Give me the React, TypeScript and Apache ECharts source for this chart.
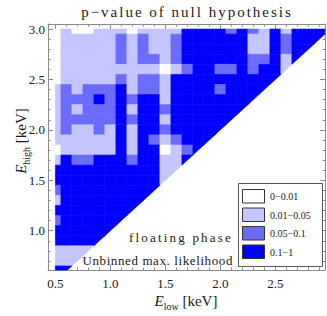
import React, { useEffect, useRef } from "react";
import * as echarts from "echarts";

// E_low columns (left to right)
const eLowValues = [0.5, 0.6, 0.7, 0.8, 0.9, 1.0, 1.1, 1.2, 1.3, 1.4, 1.5, 1.6, 1.7, 1.8, 1.9, 2.0, 2.1, 2.2, 2.3, 2.4, 2.5, 2.6, 2.7, 2.8, 2.9];
// E_high rows (top to bottom)
const eHighValues = [3.0, 2.9, 2.8, 2.7, 2.6, 2.5, 2.4, 2.3, 2.2, 2.1, 2.0, 1.9, 1.8, 1.7, 1.6, 1.5, 1.4, 1.3, 1.2, 1.1, 1.0, 0.9, 0.8, 0.7, 0.6];
// p-value class of each cell: one string per E_high row, one digit per E_low column
// 0: 0-0.01, 1: 0.01-0.05, 2: 0.05-0.1, 3: 0.1-1
const pClassRows = [
  "0100111011113333232131333",
  "0111112121123333331132333",
  "011111212112333333113233",
  "01111121221233333322313",
  "0111111111012332232331",
  "011111212213333333333",
  "12122231221333323333",
  "1222323233133333333",
  "121222313323333333",
  "12222232331333333",
  "1211213133233333",
  "111111313212333",
  "01111131330123",
  "1322333233113",
  "333333333311",
  "33333333331",
  "2333333333",
  "133333333",
  "33333333",
  "2333333",
  "333333",
  "33333",
  "1111",
  "111",
  "33",
];
const classLabels = ["0\u22120.01", "0.01\u22120.05", "0.05\u22120.1", "0.1\u22121"];
const classColors = ["#ffffff", "#c5c5ff", "#6b6bff", "#0000ff"];

const xMajorTicks = [0.5, 1.0, 1.5, 2.0, 2.5];
const xMinorTicks = [0.6, 0.7, 0.8, 0.9, 1.1, 1.2, 1.3, 1.4, 1.6, 1.7, 1.8, 1.9, 2.1, 2.2, 2.3, 2.4, 2.6, 2.7, 2.8, 2.9];
const yMajorTicks = [1.0, 1.5, 2.0, 2.5, 3.0];
const yMinorTicks = [0.7, 0.8, 0.9, 1.1, 1.2, 1.3, 1.4, 1.6, 1.7, 1.8, 1.9, 2.1, 2.2, 2.3, 2.4, 2.6, 2.7, 2.8, 2.9];

const titleText = "p\u2212value of null hypothesis";
const noteLine1 = "floating phase";
const noteLine2 = "Unbinned max. likelihood";

// plot ranges
const X_MIN = 0.433;
const X_MAX = 2.951;
const Y_MIN = 0.61;
const Y_MAX = 3.05;
const HALF = 0.05;

const FRAME = "#8a8a8a";
const INK = "#1a1a1a";
const SERIF = '"Liberation Serif", "Times New Roman", serif';

// letter spacing (px) of the widely spaced texts
const spacedTexts: Record<string, string> = {
  [titleText]: "2px",
  [noteLine1]: "2.2px",
  [noteLine2]: "0.6px",
};

type Pt = [number, number];
function clipHalf(poly: Pt[], a: number, b: number, c: number): Pt[] {
  const out: Pt[] = [];
  for (let i = 0; i < poly.length; i++) {
    const P = poly[i];
    const Q = poly[(i + 1) % poly.length];
    const fp = a * P[0] + b * P[1] + c;
    const fq = a * Q[0] + b * Q[1] + c;
    if (fp >= -1e-9) out.push(P);
    if ((fp >= -1e-9) !== (fq >= -1e-9)) {
      const t = fp / (fp - fq);
      out.push([P[0] + t * (Q[0] - P[0]), P[1] + t * (Q[1] - P[1])]);
    }
  }
  return out;
}

function buildCells() {
  const cells: number[][] = [];
  pClassRows.forEach((row, r) => {
    for (let k = 0; k < row.length; k++) {
      cells.push([eLowValues[k], eHighValues[r], Number(row[k])]);
    }
  });
  return cells;
}

function mkAxis(position: string, min: number, max: number, ticks: number[], len: number, showLine: boolean, labels: number[] | null, margin: number) {
  return {
    type: "value",
    position,
    min,
    max,
    gridIndex: 0,
    splitLine: { show: false },
    axisLine: { show: showLine, onZero: false, lineStyle: { color: FRAME, width: 1 } },
    axisTick: { show: true, inside: true, length: len, customValues: ticks, lineStyle: { color: FRAME, width: 1 } },
    axisLabel: labels
      ? {
          show: true,
          customValues: labels,
          formatter: (v: number) => v.toFixed(1),
          margin,
          color: INK,
          fontFamily: SERIF,
          fontSize: 13,
        }
      : { show: false },
  };
}

export default function App() {
  const ref = useRef<HTMLDivElement>(null);
  useEffect(() => {
    document.body.style.margin = "0";
    const chart = echarts.init(ref.current!, null, { renderer: "svg" });
    const cells = buildCells();

    const legendItems: any[] = [];
    legendItems.push({
      type: "rect",
      shape: { x: 238.5, y: 183.5, width: 84, height: 83 },
      style: { fill: "#ffffff", stroke: "#555555", lineWidth: 1 },
      z: 10,
    });
    classLabels.forEach((lab, i) => {
      legendItems.push({
        type: "rect",
        shape: { x: 242.5, y: 189.5 + i * 18.5, width: 22, height: 13.5 },
        style: { fill: classColors[i], stroke: "#333333", lineWidth: 1 },
        z: 11,
      });
      legendItems.push({
        type: "text",
        x: 270,
        y: 196.5 + i * 18.5,
        style: { text: lab, font: `10px ${SERIF}`, fill: INK, align: "left", verticalAlign: "middle", textAlign: "left", textVerticalAlign: "middle" },
        z: 11,
      });
    });

    const option: any = {
      animation: false,
      grid: { left: 48, top: 24, width: 277, height: 246, containLabel: false, outerBoundsMode: "none" },
      xAxis: [
        mkAxis("bottom", X_MIN, X_MAX, xMajorTicks, 5, true, xMajorTicks, 7),
        mkAxis("bottom", X_MIN, X_MAX, xMinorTicks, 2.5, false, null, 0),
        mkAxis("top", X_MIN, X_MAX, xMajorTicks, 5, true, null, 0),
        mkAxis("top", X_MIN, X_MAX, xMinorTicks, 2.5, false, null, 0),
      ],
      yAxis: [
        mkAxis("left", Y_MIN, Y_MAX, yMajorTicks, 5, true, yMajorTicks, 3),
        mkAxis("left", Y_MIN, Y_MAX, yMinorTicks, 2.5, false, null, 0),
        mkAxis("right", Y_MIN, Y_MAX, yMajorTicks, 5, true, null, 0),
        mkAxis("right", Y_MIN, Y_MAX, yMinorTicks, 2.5, false, null, 0),
      ],
      series: [
        {
          type: "custom",
          xAxisIndex: 0,
          yAxisIndex: 0,
          data: cells,
          encode: { x: 0, y: 1 },
          silent: true,
          clip: false,
          z: 2,
          renderItem: (params: any, api: any) => {
            const x = api.value(0);
            const y = api.value(1);
            const c = api.value(2);
            let poly: Pt[] = [
              [x - HALF, y - HALF],
              [x + HALF, y - HALF],
              [x + HALF, y + HALF],
              [x - HALF, y + HALF],
            ];
            poly = clipHalf(poly, 1, 0, -eLowValues[0]); // x >= first E_low
            poly = clipHalf(poly, 0, -1, eHighValues[0]); // y <= top E_high
            poly = clipHalf(poly, -1, 1, 0); // E_high >= E_low
            poly = clipHalf(poly, -1, 0, X_MAX);
            poly = clipHalf(poly, 0, 1, -Y_MIN);
            if (poly.length < 3) return null;
            const pts = poly.map((p) => api.coord(p));
            const col = classColors[c];
            return {
              type: "polygon",
              shape: { points: pts },
              style: { fill: col, stroke: col, lineWidth: 0.6 },
            };
          },
        },
      ],
      graphic: [
        {
          type: "text",
          x: 187,
          y: 12,
          style: { text: titleText, font: `15px ${SERIF}`, fill: INK, align: "center", verticalAlign: "middle", textAlign: "center", textVerticalAlign: "middle" },
        },
        {
          type: "text",
          x: 233,
          y: 237,
          style: { text: noteLine1, font: `13px ${SERIF}`, fill: INK, align: "right", verticalAlign: "middle", textAlign: "right", textVerticalAlign: "middle" },
          z: 12,
        },
        {
          type: "text",
          x: 233,
          y: 260,
          style: { text: noteLine2, font: `13px ${SERIF}`, fill: INK, align: "right", verticalAlign: "middle", textAlign: "right", textVerticalAlign: "middle" },
          z: 12,
        },
        {
          type: "text",
          x: 186,
          y: 301,
          style: {
            text: "{e|E}{s|low} [keV]",
            font: `15px ${SERIF}`,
            fill: INK,
            align: "center",
            verticalAlign: "middle",
            textAlign: "center",
            textVerticalAlign: "middle",
            rich: {
              e: { fontFamily: SERIF, fontSize: 15, fontStyle: "italic", fill: INK },
              s: { fontFamily: SERIF, fontSize: 10, fill: INK, padding: [10, 0, 0, 0] },
            },
          },
        },
        {
          type: "text",
          x: 21,
          y: 141,
          rotation: Math.PI / 2,
          style: {
            text: "{e|E}{s|high} [keV]",
            font: `15px ${SERIF}`,
            fill: INK,
            align: "center",
            verticalAlign: "middle",
            textAlign: "center",
            textVerticalAlign: "middle",
            rich: {
              e: { fontFamily: SERIF, fontSize: 15, fontStyle: "italic", fill: INK },
              s: { fontFamily: SERIF, fontSize: 10, fill: INK, padding: [10, 0, 0, 0] },
            },
          },
        },
        ...legendItems,
      ],
    };

    const applySpacing = () => {
      const root = ref.current;
      if (!root) return;
      root.querySelectorAll("text").forEach((t) => {
        const s = t.textContent || "";
        if (spacedTexts[s]) t.setAttribute("letter-spacing", spacedTexts[s]);
      });
    };
    chart.on("rendered", applySpacing);
    chart.on("finished", applySpacing);
    chart.setOption(option);
    applySpacing();
    const timer = window.setTimeout(applySpacing, 0);
    return () => {
      window.clearTimeout(timer);
      chart.dispose();
    };
  }, []);
  return <div ref={ref} style={{ width: 327, height: 316 }} />;
}
